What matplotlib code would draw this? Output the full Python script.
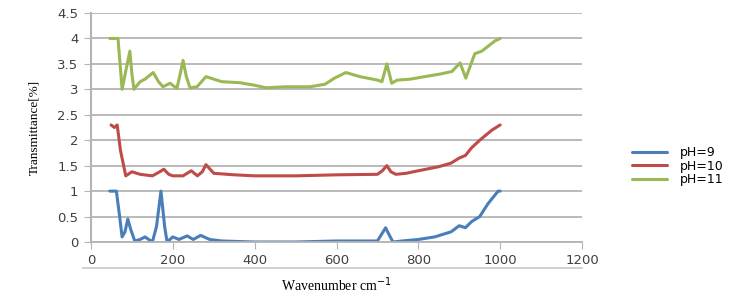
import matplotlib
matplotlib.use("Agg")
import matplotlib.pyplot as plt
from matplotlib.lines import Line2D

# pH = 9
x9 = [46, 62, 70, 76, 83, 90, 97, 107, 120, 132, 150, 160, 171, 180, 186, 200, 215, 235, 250, 268, 290, 320, 400, 500, 600, 700, 710, 720, 730, 738, 760, 800, 840, 880, 900, 915, 930, 950, 970, 995, 1000]
y9 = [1.0, 1.0, 0.5, 0.1, 0.2, 0.45, 0.25, 0.02, 0.05, 0.1, 0.0, 0.3, 1.0, 0.3, 0.0, 0.1, 0.05, 0.12, 0.05, 0.13, 0.05, 0.02, 0.0, 0.0, 0.02, 0.02, 0.15, 0.28, 0.12, 0.0, 0.02, 0.05, 0.1, 0.2, 0.32, 0.28, 0.4, 0.5, 0.75, 1.0, 1.0]

# pH = 10
x10 = [49, 57, 64, 72, 85, 100, 120, 150, 168, 178, 190, 200, 225, 245, 260, 272, 281, 300, 350, 400, 500, 600, 700, 712, 723, 733, 745, 770, 800, 850, 880, 900, 915, 930, 950, 980, 1000]
y10 = [2.3, 2.25, 2.3, 1.8, 1.3, 1.38, 1.33, 1.3, 1.38, 1.43, 1.33, 1.3, 1.3, 1.4, 1.3, 1.38, 1.52, 1.35, 1.32, 1.3, 1.3, 1.32, 1.33, 1.4, 1.5, 1.38, 1.33, 1.35, 1.4, 1.48, 1.55, 1.65, 1.7, 1.85, 2.0, 2.2, 2.3]

# pH = 11
x11 = [46, 66, 71, 76, 86, 95, 100, 105, 120, 132, 152, 165, 176, 193, 210, 218, 225, 233, 242, 259, 281, 300, 320, 364, 400, 428, 474, 535, 572, 595, 623, 657, 701, 711, 723, 735, 748, 780, 816, 853, 882, 902, 916, 938, 955, 987, 1000]
y11 = [4.0, 4.0, 3.5, 3.0, 3.4, 3.75, 3.3, 3.0, 3.15, 3.2, 3.33, 3.15, 3.05, 3.12, 3.02, 3.3, 3.57, 3.25, 3.03, 3.05, 3.25, 3.2, 3.15, 3.13, 3.08, 3.03, 3.05, 3.05, 3.1, 3.22, 3.33, 3.25, 3.18, 3.15, 3.5, 3.12, 3.18, 3.2, 3.25, 3.3, 3.35, 3.52, 3.22, 3.7, 3.75, 3.95, 4.0]

labels = ["pH=9", "pH=10", "pH=11"]
colors = ["#4a7ebb", "#be4b48", "#98b954"]
xticks = [0, 200, 400, 600, 800, 1000, 1200]
yticks = [0, 0.5, 1, 1.5, 2, 2.5, 3, 3.5, 4, 4.5]

fig = plt.figure(figsize=(7.37, 2.95), dpi=100)
ax = fig.add_axes([91/737, 1-242/295, (582-91)/737, (242-13)/295])

for xs, ys, lab, c in zip([x9, x10, x11], [y9, y10, y11], labels, colors):
    ax.plot(xs, ys, color=c, lw=2.2, label=lab, solid_joinstyle="round", solid_capstyle="round")

ax.set_xlim(0, 1200)
ax.set_ylim(0, 4.5)
ax.set_xticks(xticks)
ax.set_yticks(yticks)
ax.set_yticklabels(["0", "0.5", "1", "1.5", "2", "2.5", "3", "3.5", "4", "4.5"])
ax.grid(axis="y", color="#b4b4b4", lw=1.3)
ax.set_axisbelow(True)
for s in ["top", "right"]:
    ax.spines[s].set_visible(False)
ax.spines["left"].set_color("#b4b4b4")
ax.spines["left"].set_linewidth(1.5)
ax.spines["bottom"].set_color("#b4b4b4")
ax.spines["bottom"].set_linewidth(1.3)
ax.tick_params(axis="y", length=5, color="#b4b4b4", labelsize=9.5, labelcolor="#404040", pad=4)
ax.tick_params(axis="x", length=5, color="#b4b4b4", labelsize=9.5, labelcolor="#404040", pad=4)

ax.set_xlabel("Wavenumber cm$^{-1}$", family="Liberation Serif", fontsize=10, labelpad=6)
ax.set_ylabel("Transmittance[%]", family="Liberation Serif", fontsize=9.5, labelpad=12)

fig.add_artist(Line2D([83/737, 582/737], [1-268/295, 1-268/295], color="#c8c8c8", lw=1.2))

ax.legend(loc="upper left", bbox_to_anchor=(632/737, 1-146/295), bbox_transform=fig.transFigure,
          frameon=False, fontsize=9, handlelength=2.8, handletextpad=1.0, labelspacing=0.05,
          borderaxespad=0, borderpad=0)

fig.savefig("out.png", dpi=100)
